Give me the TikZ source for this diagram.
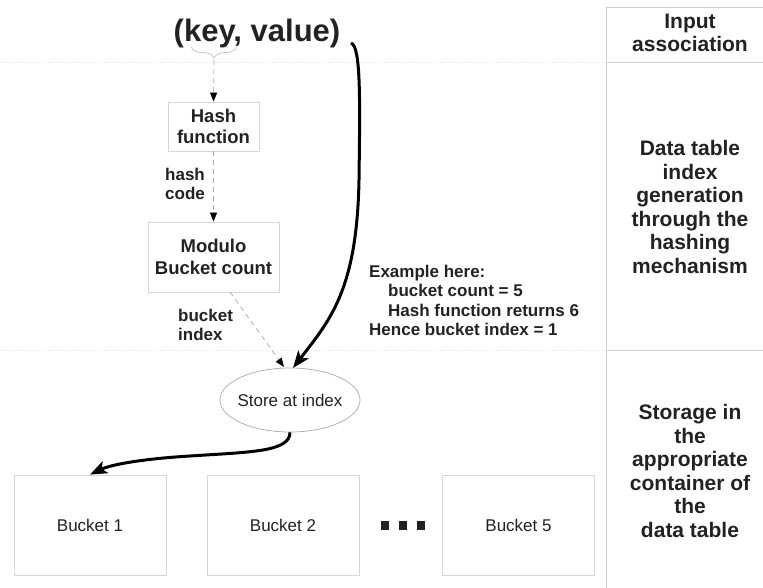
\documentclass[tikz,border=0pt]{standalone}
\usepackage{fontspec}
\setmainfont{Liberation Sans}
\usetikzlibrary{arrows.meta,decorations.pathreplacing,shapes.geometric}
\definecolor{txt}{HTML}{222222}
\definecolor{frame}{HTML}{D6D6D6}
\definecolor{rule}{HTML}{CFCFCF}
\definecolor{dash}{HTML}{A8A8A8}
\begin{document}
\begin{tikzpicture}[x=1pt,y=-1pt,
  box/.style={draw=frame,line width=0.8pt,inner sep=0pt,align=center,text=txt,font=\fontsize{18.5}{21.5}\selectfont\bfseries},
  bucket/.style={draw=frame,line width=0.8pt,inner sep=0pt,text=txt,minimum width=152pt,minimum height=100pt,font=\fontsize{17}{20}\selectfont},
  lbl/.style={font=\fontsize{17}{19.5}\selectfont\bfseries,text=txt,align=left,inner sep=0pt},
  side/.style={font=\fontsize{21}{23.6}\selectfont\bfseries,text=txt,align=center,inner sep=0pt},
  flow/.style={draw=dash,dash pattern=on 5pt off 4pt,line width=0.7pt,-{Triangle[length=9pt,width=7pt,color=black]}},
  big/.style={draw=black,line width=3pt,-{Stealth[length=17pt,width=13pt,inset=4pt]}},
  sep/.style={draw=rule!60,dotted,line width=0.8pt},
  col/.style={draw=rule,line width=0.8pt},
  dot/.style={fill=txt,minimum width=8pt,minimum height=9pt,inner sep=0pt}]
\useasboundingbox (0,0) rectangle (763,588);

% separators
\draw[sep] (0,62) -- (606,62);
\draw[sep] (0,350) -- (606,350);
\draw[col] (606,7) -- (606,588);
\draw[col] (606,7) -- (763,7);
\draw[col] (606,62) -- (763,62);
\draw[col] (606,350) -- (763,350);

% right column
\node[side] (s1) at (690,33) {Input\\association};
\node[side] (s2) at (690,207) {Data table\\index\\generation\\through the\\hashing\\mechanism};
\node[side] (s3) at (690,471) {Storage in\\the\\appropriate\\container of\\the\\data table};

% main flow
\node[font=\fontsize{31}{36}\selectfont\bfseries,text=txt,inner sep=0pt] (kv) at (257,33) {(key, value)};
\draw[dash!80,line width=0.6pt,decorate,decoration={brace,mirror,amplitude=11pt}] (191,47) -- (237,47);
\coordinate (btip) at (214,60);
\node[box,minimum width=91pt,minimum height=49pt] (hash) at (213.5,126.5) {Hash\\function};
\node[box,minimum width=131pt,minimum height=70pt] (mod) at (213.5,257) {Modulo\\Bucket count};
\node[ellipse,draw=dash,line width=0.7pt,minimum width=140pt,minimum height=64pt,inner xsep=-6pt,inner ysep=0pt,font=\fontsize{17}{20}\selectfont,text=txt] (store) at (290,400) {Store at index};

\draw[flow] (btip) -- (hash.north);
\draw[flow] (hash.south) -- (mod.north);
\coordinate (m1) at (230,292);
\coordinate (e1) at (284,367);
\draw[flow] (m1) -- (e1);

\node[lbl,anchor=west] (hc) at (165,184) {hash\\code};
\node[lbl,anchor=west] (bi) at (178,325) {bucket\\index};
\node[lbl,anchor=west] (ex) at (369,300.5) {Example here:\\\hspace*{19pt}bucket count = 5\\\hspace*{19pt}Hash function returns 6\\Hence bucket index = 1};

% buckets
\node[bucket] (b1) at (90,525) {Bucket 1};
\node[bucket] (b2) at (283,525) {Bucket 2};
\node[bucket] (b5) at (518.5,525) {Bucket 5};
\node[dot] (d1) at (385,525) {};
\node[dot] (d2) at (403,525) {};
\node[dot] (d3) at (421,525) {};

% thick arrows
\coordinate (k1) at (351,43);
\coordinate (e2) at (293,368);
\draw[big] (k1) .. controls (361,46) and (360,100) .. (359,180) .. controls (357,290) and (330,320) .. (e2);
\draw[big] (store.south) .. controls (290,452) and (250,452) .. (190,456) .. controls (140,459) and (110,465) .. (b1.north);
\end{tikzpicture}
\end{document}
